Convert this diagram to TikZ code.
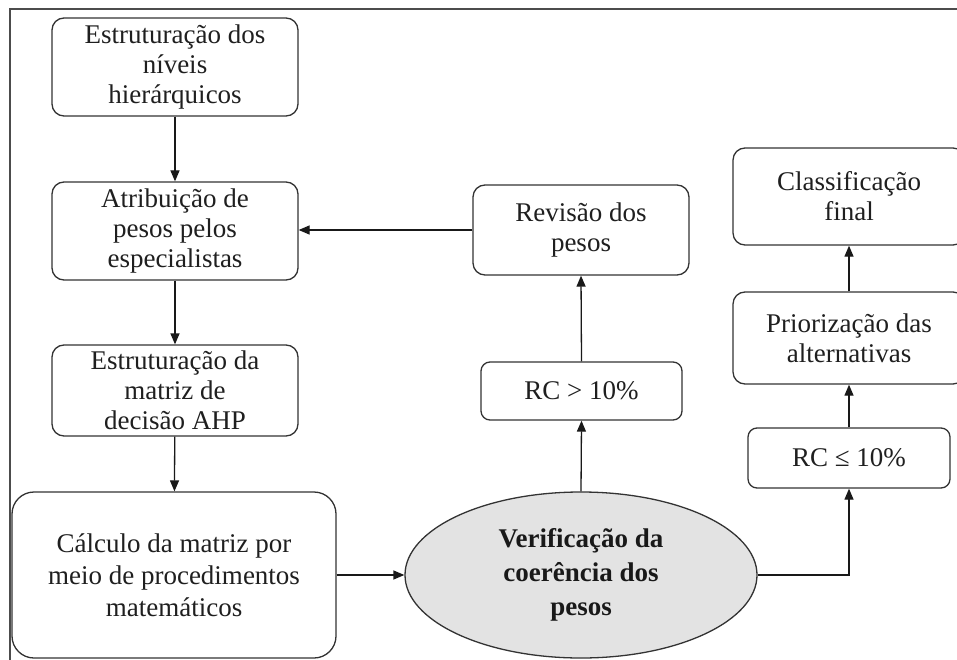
\documentclass[tikz,border=0pt]{standalone}
\usepackage{fontspec}
\setmainfont{Liberation Serif}
\usetikzlibrary{shapes.geometric,arrows.meta}
\begin{document}
\begin{tikzpicture}[x=1pt,y=-1pt,
  box/.style={draw=black!80, line width=1.3pt, rounded corners=12pt, align=center,
    inner sep=0pt, font=\fontsize{27}{30}\selectfont, text=black!88},
  arr/.style={line width=1.3pt, draw=black!90, -{Triangle[length=11pt,width=9pt]}},
]
\clip (0,0) rectangle (957,660);
\fill[white] (0,0) rectangle (957,660);
\draw[line width=1.6pt, black!70] (10,9) rectangle (1000,720);

\node[box, minimum width=246pt, minimum height=98pt] (b1) at (175,67) {Estruturação dos\\níveis\\hierárquicos};
\node[box, minimum width=246pt, minimum height=98pt] (b2) at (175,231) {Atribuição de\\pesos pelos\\especialistas};
\node[box, minimum width=246pt, minimum height=91pt] (b3) at (175,390.5) {Estruturação da\\matriz de\\decisão AHP};
\node[box, rounded corners=22pt, minimum width=324pt, minimum height=166pt, font=\fontsize{27}{32}\selectfont] (b4) at (174,575) {Cálculo da matriz por\\meio de procedimentos\\matemáticos};
\node[ellipse, draw=black!80, line width=1.3pt, fill=black!11, minimum width=352pt, minimum height=166pt,
  inner sep=0pt, align=center, text=black!90, font=\bfseries\fontsize{27}{34}\selectfont] (ell) at (581,575) {Verificação da\\coerência dos\\pesos};
\node[box, minimum width=216pt, minimum height=90pt] (rev) at (581,230) {Revisão dos\\pesos};
\node[box, rounded corners=9pt, minimum width=201pt, minimum height=58pt] (rcg) at (581.5,391) {RC > 10\%};
\node[box, minimum width=232pt, minimum height=97pt] (cls) at (849,196.5) {Classificação\\final};
\node[box, minimum width=232pt, minimum height=92pt] (pri) at (849,338) {Priorização das\\alternativas};
\node[box, rounded corners=9pt, minimum width=202pt, minimum height=60pt] (rcl) at (849,458) {RC ≤ 10\%};

\draw[arr] (b1) -- (b2);
\draw[arr] (b2) -- (b3);
\draw[arr] (b3) -- (b4);
\draw[arr] (b4.east) -- (ell.west);
\draw[arr] (ell.north) -- (rcg.south);
\draw[arr] (rcg.north) -- (rev.south);
\draw[arr] (rev.west) -- (rev.west -| b2.east);
\draw[arr] (ell.east) -| (rcl.south);
\draw[arr] (rcl.north) -- (pri.south);
\draw[arr] (pri.north) -- (cls.south);
\end{tikzpicture}
\end{document}
